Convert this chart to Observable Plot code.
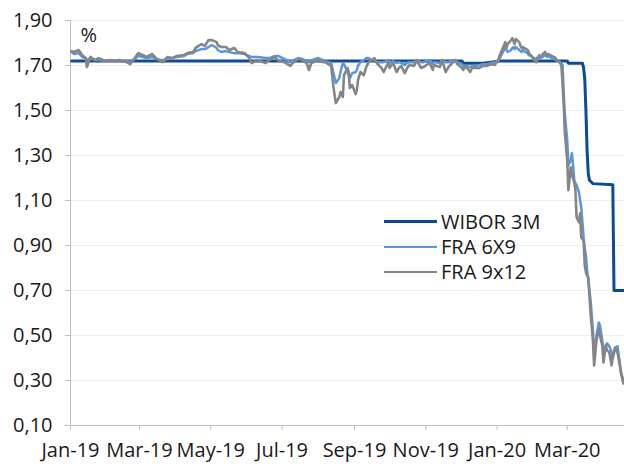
<!DOCTYPE html>
<html>
<head>
<meta charset="utf-8">
<script src="https://cdn.jsdelivr.net/npm/d3@7"></script>
<script src="https://cdn.jsdelivr.net/npm/@observablehq/plot@0.6"></script>
<style>
  html, body { margin: 0; padding: 0; background: #ffffff; }
  #wrap { position: relative; width: 624px; height: 464px; font-family: "Open Sans", sans-serif; }
  .leg { position: absolute; left: 384px; display: flex; align-items: center; font-size: 20px; color: #1a1a1a; line-height: 1; }
  .leg span.sw { display: inline-block; width: 53px; margin-right: 4px; }
</style>
</head>
<body>
<div id="wrap"></div>
<script>
// ---- Data ----
const seriesNames = ["WIBOR 3M", "FRA 6X9", "FRA 9x12"];
const seriesColors = ["#0b4c94", "#5b95dc", "#858585"];

const wiborDates = ["2019-01-02","2019-12-02","2019-12-03","2019-12-20","2019-12-27","2020-01-03","2020-03-01","2020-03-02","2020-03-14","2020-03-15","2020-03-16","2020-03-17","2020-03-18","2020-03-19","2020-03-20","2020-03-23","2020-04-09","2020-04-10","2020-04-18"];
const wibor3m    = [1.72,1.72,1.71,1.71,1.715,1.72,1.72,1.71,1.71,1.69,1.64,1.50,1.32,1.22,1.19,1.175,1.17,0.70,0.70];

const fraDates = [
"2019-01-02","2019-01-04","2019-01-08","2019-01-11","2019-01-14","2019-01-15","2019-01-18","2019-01-22","2019-01-25","2019-01-31",
"2019-02-04","2019-02-08","2019-02-12","2019-02-18","2019-02-21","2019-02-25","2019-02-28","2019-03-04","2019-03-07","2019-03-12",
"2019-03-15","2019-03-19","2019-03-21","2019-03-25","2019-03-29","2019-04-02","2019-04-08","2019-04-11","2019-04-16","2019-04-18",
"2019-04-23","2019-04-26","2019-04-29","2019-05-02","2019-05-06","2019-05-07","2019-05-10","2019-05-14","2019-05-17","2019-05-21",
"2019-05-24","2019-05-30","2019-06-03","2019-06-05","2019-06-10","2019-06-17","2019-06-20","2019-06-25","2019-06-28","2019-07-03",
"2019-07-08","2019-07-11","2019-07-15","2019-07-18","2019-07-22","2019-07-24","2019-07-26","2019-08-01","2019-08-05","2019-08-07",
"2019-08-12","2019-08-14","2019-08-16","2019-08-19","2019-08-20","2019-08-22","2019-08-23","2019-08-26","2019-08-27","2019-08-28",
"2019-08-30","2019-09-02","2019-09-03","2019-09-04","2019-09-06","2019-09-09","2019-09-11","2019-09-13","2019-09-16","2019-09-18",
"2019-09-20","2019-09-24","2019-09-26","2019-09-30","2019-10-01","2019-10-04","2019-10-07","2019-10-09","2019-10-11","2019-10-14",
"2019-10-16","2019-10-18","2019-10-22","2019-10-24","2019-10-28","2019-10-30","2019-11-04","2019-11-05","2019-11-07","2019-11-08",
"2019-11-13","2019-11-15","2019-11-18","2019-11-21","2019-11-22","2019-11-26","2019-11-28","2019-12-02","2019-12-03","2019-12-05",
"2019-12-09","2019-12-11","2019-12-13","2019-12-17","2019-12-20","2019-12-23","2019-12-27","2019-12-30","2020-01-02","2020-01-03",
"2020-01-07","2020-01-08","2020-01-09","2020-01-10","2020-01-13","2020-01-14","2020-01-15","2020-01-16","2020-01-17","2020-01-20",
"2020-01-21","2020-01-22","2020-01-23","2020-01-24","2020-01-27","2020-01-28","2020-01-29","2020-01-30","2020-01-31","2020-02-03",
"2020-02-04","2020-02-05","2020-02-06","2020-02-07","2020-02-10","2020-02-11","2020-02-12","2020-02-13","2020-02-14","2020-02-17",
"2020-02-18","2020-02-19","2020-02-20","2020-02-21","2020-02-24","2020-02-25","2020-02-26","2020-02-27","2020-02-28","2020-03-01",
"2020-03-02","2020-03-04","2020-03-05","2020-03-06","2020-03-07","2020-03-08","2020-03-09","2020-03-11","2020-03-12","2020-03-13",
"2020-03-15","2020-03-16","2020-03-17","2020-03-18","2020-03-19","2020-03-21","2020-03-23","2020-03-24","2020-03-26","2020-03-28",
"2020-03-29","2020-03-31","2020-04-01","2020-04-03","2020-04-04","2020-04-06","2020-04-08","2020-04-09","2020-04-11","2020-04-13",
"2020-04-15","2020-04-16","2020-04-18"
];

const fra6x9 = [
1.760,1.751,1.755,1.738,1.733,1.724,1.733,1.724,1.724,1.720,
1.720,1.720,1.720,1.720,1.715,1.729,1.742,1.738,1.733,1.738,
1.729,1.724,1.724,1.729,1.733,1.738,1.742,1.751,1.755,1.764,
1.773,1.773,1.782,1.791,1.778,1.769,1.760,1.764,1.760,1.755,
1.755,1.751,1.742,1.738,1.738,1.733,1.733,1.742,1.742,1.729,
1.715,1.724,1.733,1.729,1.720,1.715,1.724,1.733,1.724,1.720,
1.711,1.666,1.622,1.644,1.671,1.711,1.706,1.671,1.657,1.644,
1.666,1.671,1.680,1.698,1.715,1.724,1.733,1.733,1.724,1.724,
1.715,1.715,1.715,1.724,1.711,1.720,1.711,1.715,1.711,1.702,
1.711,1.715,1.715,1.724,1.715,1.715,1.724,1.720,1.706,1.715,
1.711,1.724,1.715,1.715,1.720,1.724,1.715,1.706,1.698,1.698,
1.693,1.698,1.698,1.702,1.706,1.706,1.711,1.715,1.720,1.729,
1.769,1.778,1.769,1.760,1.769,1.778,1.782,1.773,1.782,1.769,
1.764,1.760,1.769,1.764,1.755,1.746,1.746,1.742,1.738,1.729,
1.733,1.738,1.742,1.733,1.742,1.746,1.742,1.738,1.742,1.733,
1.733,1.729,1.724,1.724,1.715,1.711,1.702,1.577,1.479,1.368,
1.257,1.279,1.310,1.257,1.190,1.177,1.168,1.137,1.101,1.070,
0.936,0.888,0.856,0.790,0.745,0.656,0.522,0.411,0.500,0.558,
0.545,0.478,0.434,0.452,0.465,0.452,0.425,0.398,0.443,0.452,
0.380,0.335,0.300
];

const fra9x12 = [
1.764,1.760,1.769,1.746,1.733,1.693,1.738,1.724,1.733,1.720,
1.724,1.720,1.724,1.715,1.706,1.733,1.755,1.746,1.738,1.751,
1.733,1.720,1.715,1.738,1.733,1.742,1.746,1.755,1.760,1.778,
1.795,1.787,1.813,1.813,1.804,1.791,1.782,1.782,1.769,1.778,
1.760,1.755,1.733,1.711,1.724,1.711,1.724,1.738,1.720,1.715,
1.698,1.715,1.729,1.724,1.711,1.680,1.711,1.724,1.715,1.715,
1.698,1.604,1.533,1.560,1.582,1.560,1.657,1.689,1.671,1.600,
1.613,1.573,1.591,1.635,1.671,1.657,1.693,1.715,1.724,1.733,
1.711,1.689,1.671,1.715,1.689,1.711,1.671,1.689,1.698,1.666,
1.689,1.702,1.698,1.724,1.689,1.693,1.711,1.702,1.680,1.702,
1.693,1.724,1.671,1.698,1.702,1.724,1.706,1.689,1.680,1.698,
1.671,1.693,1.689,1.689,1.698,1.698,1.706,1.702,1.724,1.742,
1.791,1.804,1.778,1.795,1.813,1.822,1.809,1.795,1.818,1.804,
1.787,1.778,1.782,1.778,1.769,1.760,1.746,1.746,1.738,1.715,
1.715,1.733,1.746,1.738,1.755,1.760,1.751,1.746,1.751,1.742,
1.738,1.738,1.733,1.724,1.711,1.698,1.622,1.524,1.399,1.279,
1.146,1.248,1.212,1.199,1.181,1.146,1.026,1.003,1.043,0.936,
0.923,0.812,0.781,0.767,0.759,0.598,0.478,0.367,0.478,0.531,
0.500,0.456,0.380,0.456,0.434,0.425,0.367,0.411,0.447,0.425,
0.367,0.335,0.287
];

const xDomain = ["2019-01-01", "2020-04-19"];
const xTickDates = ["2019-01-01","2019-03-01","2019-05-01","2019-07-01","2019-09-01","2019-11-01","2020-01-01","2020-03-01"];
const xTickLabels = ["Jan-19","Mar-19","May-19","Jul-19","Sep-19","Nov-19","Jan-20","Mar-20"];
const yTicks = [0.10,0.30,0.50,0.70,0.90,1.10,1.30,1.50,1.70,1.90];
const yTickLabels = ["0,10","0,30","0,50","0,70","0,90","1,10","1,30","1,50","1,70","1,90"];
const unitLabel = "%";

// ---- Build tables ----
const parse = s => new Date(s + "T00:00:00Z");
const wiborRows = wiborDates.map((d, i) => ({date: parse(d), value: wibor3m[i]}));
const fra69Rows = fraDates.map((d, i) => ({date: parse(d), value: fra6x9[i]}));
const fra912Rows = fraDates.map((d, i) => ({date: parse(d), value: fra9x12[i]}));
const xTicks = xTickDates.map(parse);
const xLabelMap = new Map(xTicks.map((d, i) => [+d, xTickLabels[i]]));
const yLabelMap = new Map(yTicks.map((v, i) => [v, yTickLabels[i]]));

const axisGray = "#bfbfbf";
const textColor = "#1a1a1a";

const chart = Plot.plot({
  width: 624,
  height: 464,
  marginLeft: 70,
  marginRight: 0,
  marginTop: 20,
  marginBottom: 39,
  style: {fontFamily: "'Open Sans', sans-serif", fontSize: "20px", background: "#ffffff", color: textColor},
  x: {type: "utc", domain: xDomain.map(parse)},
  y: {domain: [0.10, 1.90]},
  marks: [
    Plot.gridY(yTicks, {stroke: "#eeeeee", strokeOpacity: 1}),
    Plot.axisY(yTicks, {tickFormat: v => yLabelMap.get(v), tickSize: 5, tickPadding: 13, stroke: axisGray, fill: textColor, label: null, fontSize: 20}),
    Plot.axisX(xTicks, {tickFormat: d => xLabelMap.get(+d), tickSize: 5, tickPadding: 12, stroke: axisGray, fill: textColor, label: null, fontSize: 20}),
    Plot.ruleY([0.10], {stroke: axisGray}),
    Plot.ruleX([parse(xDomain[0])], {stroke: axisGray}),
    Plot.line(wiborRows, {x: "date", y: "value", stroke: seriesColors[0], strokeWidth: 3, strokeLinejoin: "round"}),
    Plot.line(fra69Rows, {x: "date", y: "value", stroke: seriesColors[1], strokeWidth: 2.5, strokeLinejoin: "round"}),
    Plot.line(fra912Rows, {x: "date", y: "value", stroke: seriesColors[2], strokeWidth: 2.6, strokeLinejoin: "round"}),
    Plot.text([unitLabel], {frameAnchor: "top-left", dx: 10, dy: 15, lineAnchor: "middle", textAnchor: "start", fontSize: 20, fill: textColor})
  ]
});

const wrap = document.getElementById("wrap");
wrap.appendChild(chart);

// ---- Legend (HTML overlay) ----
const legendTops = [221.5, 247, 272];
const legendWidths = [3, 2.5, 2.5];
seriesNames.forEach((name, i) => {
  const item = document.createElement("div");
  item.className = "leg";
  item.style.top = (legendTops[i] - 12) + "px";
  item.style.height = "24px";
  const sw = document.createElement("span");
  sw.className = "sw";
  sw.style.height = legendWidths[i] + "px";
  sw.style.background = seriesColors[i];
  const tx = document.createElement("span");
  tx.textContent = name;
  item.appendChild(sw);
  item.appendChild(tx);
  wrap.appendChild(item);
});
</script>
</body>
</html>
